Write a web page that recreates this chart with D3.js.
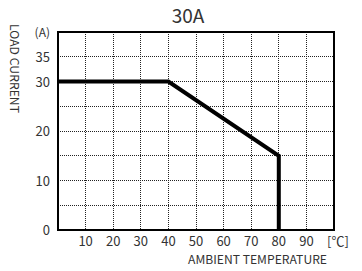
<!DOCTYPE html>
<html>
<head>
<meta charset="utf-8">
<script src="https://cdn.jsdelivr.net/npm/d3@7"></script>
<style>
  body { margin: 0; background: white; }
  text { font-family: "Noto Sans CJK KR", "Noto Sans", sans-serif; fill: #333; }
</style>
</head>
<body>
<div id="chart"></div>
<script>
// derating curve data
var temps = [0, 40, 80, 80];
var currents = [30, 30, 15, 0];
var xTicks = [10, 20, 30, 40, 50, 60, 70, 80, 90];
var yTicks = [0, 10, 20, 30, 35];
var xGrid = [10, 20, 30, 40, 50, 60, 70, 80, 90];
var yGrid = [5, 10, 15, 20, 25, 30, 35];

var width = 362, height = 271;
var plotL = 58, plotR = 334, plotT = 32, plotB = 230;

var svg = d3.select("#chart").append("svg")
    .attr("width", width)
    .attr("height", height);

var x = d3.scaleLinear().domain([0, 100]).range([plotL, plotR]);
var y = d3.scaleLinear().domain([0, 40]).range([plotB, plotT]);

// grid
svg.append("g").selectAll("line")
    .data(xGrid).enter().append("line")
    .attr("x1", d => x(d)).attr("x2", d => x(d))
    .attr("y1", plotT).attr("y2", plotB)
    .attr("stroke", "#222").attr("stroke-width", 1)
    .attr("stroke-dasharray", "1,1")
    .attr("shape-rendering", "crispEdges");

svg.append("g").selectAll("line")
    .data(yGrid).enter().append("line")
    .attr("x1", plotL).attr("x2", plotR)
    .attr("y1", d => y(d)).attr("y2", d => y(d))
    .attr("stroke", "#222").attr("stroke-width", 1)
    .attr("stroke-dasharray", "1,1")
    .attr("shape-rendering", "crispEdges");

// frame
svg.append("rect")
    .attr("x", plotL).attr("y", plotT)
    .attr("width", plotR - plotL).attr("height", plotB - plotT)
    .attr("fill", "none").attr("stroke", "#000").attr("stroke-width", 2);

// curve
var pts = temps.map((t, i) => [t, currents[i]]);
svg.append("path")
    .datum(pts)
    .attr("fill", "none")
    .attr("stroke", "#000")
    .attr("stroke-width", 4)
    .attr("stroke-linejoin", "miter")
    .attr("d", d3.line().x(d => x(d[0])).y(d => y(d[1])));

// tick labels
svg.append("g").selectAll("text")
    .data(xTicks).enter().append("text")
    .attr("x", d => x(d)).attr("y", plotB + 16)
    .attr("text-anchor", "middle")
    .style("font-size", "13px")
    .text(d => d);

svg.append("g").selectAll("text")
    .data(yTicks).enter().append("text")
    .attr("x", plotL - 8).attr("y", d => y(d) + 5)
    .attr("text-anchor", "end")
    .style("font-size", "13px")
    .text(d => d);

svg.append("text")
    .attr("x", x(100) + 4).attr("y", plotB + 16)
    .attr("text-anchor", "middle")
    .style("font-size", "13px")
    .text("[℃]");

svg.append("text")
    .attr("x", plotL - 8).attr("y", plotT + 5)
    .attr("text-anchor", "end")
    .style("font-size", "12px")
    .text("(A)");

// title
svg.append("text")
    .attr("x", 188).attr("y", 23)
    .attr("text-anchor", "middle")
    .style("font-size", "19px")
    .text("30A");

// axis titles
svg.append("text")
    .attr("x", 327).attr("y", 264)
    .attr("text-anchor", "end")
    .attr("textLength", 139)
    .attr("lengthAdjust", "spacingAndGlyphs")
    .style("font-size", "12px")
    .text("AMBIENT TEMPERATURE");

svg.append("text")
    .attr("transform", "translate(10,24) rotate(90)")
    .attr("text-anchor", "start")
    .attr("textLength", 89)
    .attr("lengthAdjust", "spacingAndGlyphs")
    .style("font-size", "12px")
    .text("LOAD CURRENT");
</script>
</body>
</html>
